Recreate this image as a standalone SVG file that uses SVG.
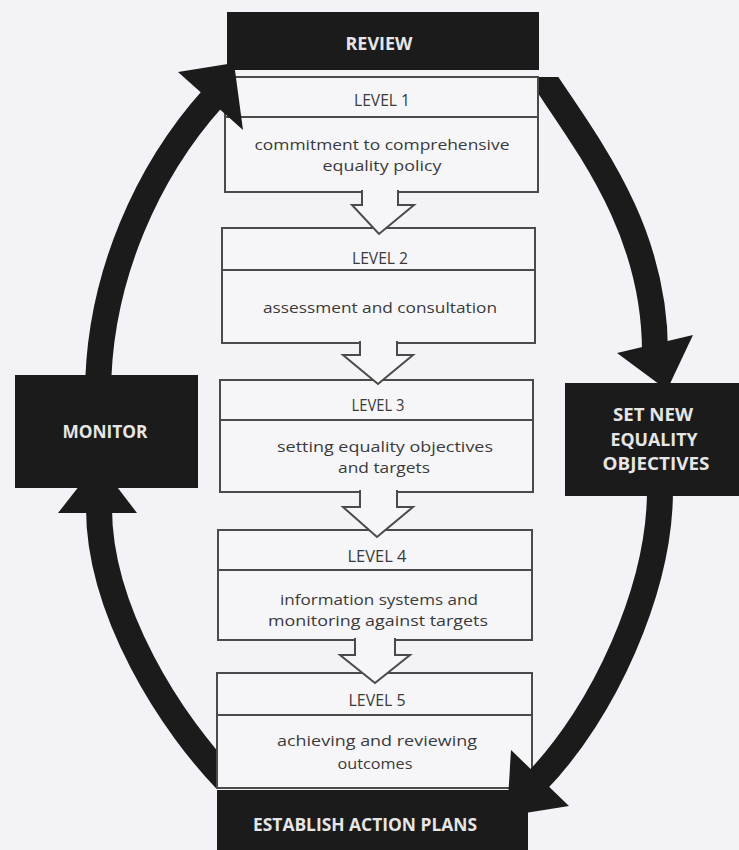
<svg xmlns="http://www.w3.org/2000/svg" width="739" height="850" viewBox="0 0 739 850">
<defs>
<style>
.bg{fill:#f3f2f7}
.lvl{fill:#f6f6f9;stroke:#4a4a4a;stroke-width:2}
.dv{stroke:#4a4a4a;stroke-width:2}
.dark{fill:#1b1b1b}
.t{font-family:"Open Sans","Liberation Sans",sans-serif;font-size:15px;fill:#3a3a3a;text-anchor:middle}
.lab{font-size:16px}
.w{font-family:"Open Sans","Liberation Sans",sans-serif;font-weight:bold;font-size:17px;fill:#e6e6e6;text-anchor:middle}
.shaft{fill:none;stroke:#1b1b1b;stroke-width:26;stroke-linecap:butt}
.head{fill:#1b1b1b}
.open{fill:#f6f6f9;stroke:#4a4a4a;stroke-width:2;stroke-linejoin:miter}
</style>
<clipPath id="cl"><rect x="0" y="0" width="216" height="789"/></clipPath>
<clipPath id="cr"><rect x="539" y="77" width="200" height="773"/></clipPath>
</defs>
<rect class="bg" x="0" y="0" width="739" height="850"/>

<g id="review">
<rect class="dark" x="227" y="12" width="312" height="58"/>
<text class="w" x="379" y="50" textLength="67" lengthAdjust="spacingAndGlyphs">REVIEW</text>
</g>

<g id="level1">
<rect class="lvl" x="225" y="77" width="313" height="115"/>
<line class="dv" x1="225" y1="117" x2="538" y2="117"/>
<text class="t lab" x="382" y="106" textLength="56" lengthAdjust="spacingAndGlyphs">LEVEL 1</text>
<text class="t" x="382" y="150" textLength="255" lengthAdjust="spacingAndGlyphs">commitment to comprehensive</text>
<text class="t" x="382" y="171" textLength="119" lengthAdjust="spacingAndGlyphs">equality policy</text>
</g>

<g id="level2">
<rect class="lvl" x="222" y="228" width="313" height="115"/>
<line class="dv" x1="222" y1="270" x2="535" y2="270"/>
<text class="t lab" x="380" y="264" textLength="56" lengthAdjust="spacingAndGlyphs">LEVEL 2</text>
<text class="t" x="380" y="313" textLength="234" lengthAdjust="spacingAndGlyphs">assessment and consultation</text>
</g>

<g id="level3">
<rect class="lvl" x="220" y="380" width="313" height="112"/>
<line class="dv" x1="220" y1="420" x2="533" y2="420"/>
<text class="t lab" x="378" y="411" textLength="53" lengthAdjust="spacingAndGlyphs">LEVEL 3</text>
<text class="t" x="385" y="452" textLength="216" lengthAdjust="spacingAndGlyphs">setting equality objectives</text>
<text class="t" x="384" y="473" textLength="92" lengthAdjust="spacingAndGlyphs">and targets</text>
</g>

<g id="level4">
<rect class="lvl" x="218" y="530" width="314" height="110"/>
<line class="dv" x1="218" y1="570" x2="532" y2="570"/>
<text class="t lab" x="377" y="562" textLength="59" lengthAdjust="spacingAndGlyphs">LEVEL 4</text>
<text class="t" x="379" y="605" textLength="198" lengthAdjust="spacingAndGlyphs">information systems and</text>
<text class="t" x="378" y="626" textLength="220" lengthAdjust="spacingAndGlyphs">monitoring against targets</text>
</g>

<g id="level5">
<rect class="lvl" x="217" y="673" width="315" height="115"/>
<line class="dv" x1="217" y1="715" x2="532" y2="715"/>
<text class="t lab" x="377" y="706" textLength="57" lengthAdjust="spacingAndGlyphs">LEVEL 5</text>
<text class="t" x="377" y="746" textLength="200" lengthAdjust="spacingAndGlyphs">achieving and reviewing</text>
<text class="t" x="375" y="769" textLength="75" lengthAdjust="spacingAndGlyphs">outcomes</text>
</g>

<g id="establish">
<rect class="dark" x="217" y="790" width="311" height="60"/>
<text class="w" x="365" y="831" textLength="224" lengthAdjust="spacingAndGlyphs">ESTABLISH ACTION PLANS</text>
</g>

<g id="monitor">
<rect class="dark" x="15" y="375" width="183" height="113"/>
<text class="w" x="105" y="438" textLength="85" lengthAdjust="spacingAndGlyphs">MONITOR</text>
</g>

<g id="setnew">
<rect class="dark" x="565" y="383" width="174" height="113"/>
<text class="w" x="653" y="421" textLength="80" lengthAdjust="spacingAndGlyphs">SET NEW</text>
<text class="w" x="654" y="446" textLength="87" lengthAdjust="spacingAndGlyphs">EQUALITY</text>
<text class="w" x="656" y="470" textLength="107" lengthAdjust="spacingAndGlyphs">OBJECTIVES</text>
</g>

<g id="connectors">
<path class="open" d="M362,190 V205 H352 L379,234 L414,205 H398 V190"/>
<path class="open" d="M360,341 V355 H343 L378,384 L413,355 H397 V341"/>
<path class="open" d="M360,490 V507 H343 L377,537 L413,507 H397 V490"/>
<path class="open" d="M355,638 V655 H340 L375,683 L410,655 H395 V638"/>

<path class="shaft" d="M98,395 C98,275 150,168 213,98"/>
<polygon class="head" points="178,72 234,63 243,130"/>

<path class="shaft" clip-path="url(#cr)" d="M540,73 C589.5,147.7 655,230 655,352"/>
<polygon class="head" points="617,353 693,335 667,390"/>

<path class="shaft" d="M660,490 C660,590 603,713 537,781"/>
<polygon class="head" points="511,750 569,806 507,816"/>

<path class="shaft" clip-path="url(#cl)" d="M99,508 C99,610 170,724 232,786"/>
<polygon class="head" points="58,513 137,513 98,462"/>
</g>
</svg>
